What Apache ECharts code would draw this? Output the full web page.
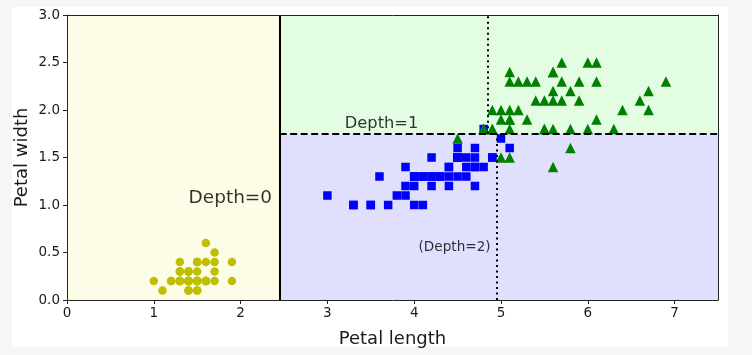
<!DOCTYPE html>
<html><head><meta charset="utf-8">
<script src="https://cdn.jsdelivr.net/npm/echarts@6/dist/echarts.min.js"></script>
<style>html,body{margin:0;padding:0;background:#f6f6f6}#c{width:752px;height:355px}</style>
</head><body><div id="c"></div>
<script>
// Iris petal measurements, one array pair per class
const setosaLength = [1.4,1.4,1.3,1.5,1.4,1.7,1.4,1.5,1.4,1.5,1.5,1.6,1.4,1.1,1.2,1.5,1.3,1.4,1.7,1.5,1.7,1.5,1.0,1.7,1.9,1.6,1.6,1.5,1.4,1.6,1.6,1.5,1.5,1.4,1.5,1.2,1.3,1.4,1.3,1.5,1.3,1.3,1.3,1.6,1.9,1.4,1.6,1.4,1.5,1.4];
const setosaWidth  = [0.2,0.2,0.2,0.2,0.2,0.4,0.3,0.2,0.2,0.1,0.2,0.2,0.1,0.1,0.2,0.4,0.4,0.3,0.3,0.3,0.2,0.4,0.2,0.5,0.2,0.2,0.4,0.2,0.2,0.2,0.2,0.4,0.1,0.2,0.2,0.2,0.2,0.1,0.2,0.2,0.3,0.3,0.2,0.6,0.4,0.3,0.2,0.2,0.2,0.2];
const versicolorLength = [4.7,4.5,4.9,4.0,4.6,4.5,4.7,3.3,4.6,3.9,3.5,4.2,4.0,4.7,3.6,4.4,4.5,4.1,4.5,3.9,4.8,4.0,4.9,4.7,4.3,4.4,4.8,5.0,4.5,3.5,3.8,3.7,3.9,5.1,4.5,4.5,4.7,4.4,4.1,4.0,4.4,4.6,4.0,3.3,4.2,4.2,4.2,4.3,3.0,4.1];
const versicolorWidth  = [1.4,1.5,1.5,1.3,1.5,1.3,1.6,1.0,1.3,1.4,1.0,1.5,1.0,1.4,1.3,1.4,1.5,1.0,1.5,1.1,1.8,1.3,1.5,1.2,1.3,1.4,1.4,1.7,1.5,1.0,1.1,1.0,1.2,1.6,1.5,1.6,1.5,1.3,1.3,1.3,1.2,1.4,1.2,1.0,1.3,1.2,1.3,1.3,1.1,1.3];
const virginicaLength = [6.0,5.1,5.9,5.6,5.8,6.6,4.5,6.3,5.8,6.1,5.1,5.3,5.5,5.0,5.1,5.3,5.5,6.7,6.9,5.0,5.7,4.9,6.7,4.9,5.7,6.0,4.8,4.9,5.6,5.8,6.1,6.4,5.6,5.1,5.6,6.1,5.6,5.5,4.8,5.4,5.6,5.1,5.1,5.9,5.7,5.2,5.0,5.2,5.4,5.1];
const virginicaWidth  = [2.5,1.9,2.1,1.8,2.2,2.1,1.7,1.8,1.8,2.5,2.0,1.9,2.1,2.0,2.4,2.3,1.8,2.2,2.3,1.5,2.3,2.0,2.0,1.8,2.1,1.8,1.8,1.8,2.1,1.6,1.9,2.0,2.2,1.5,1.4,2.3,2.4,1.8,1.8,2.1,2.4,2.3,1.9,2.3,2.5,2.3,1.9,2.0,2.3,1.8];

// Decision tree thresholds and axis extents
const xRange = [0, 7.5];
const yRange = [0, 3];
const depth0Split = 2.45;      // petal length
const depth1Split = 1.75;      // petal width
const depth2SplitLow = 4.95;   // petal length, lower branch
const depth2SplitHigh = 4.85;  // petal length, upper branch

// Tick labels
const xTicks = [0,1,2,3,4,5,6,7];
const yTicks = [0,0.5,1,1.5,2,2.5,3];

// Annotations
const annotationTexts = ["Depth=0", "Depth=1", "(Depth=2)"];
const annotationX = [1.40, 3.2, 4.05];
const annotationY = [1.0, 1.80, 0.5];

const FONT = "DejaVu Sans";
const zip = (a, b) => a.map((v, i) => [v, b[i]]);
const annotationFont = [18.5, 16.3, 13.6];

const chart = echarts.init(document.getElementById('c'), null, {renderer: 'canvas'});

const axisCommon = {
  type: 'value', z: 10, splitLine: {show: false},
  axisLine: {show: true, onZero: false, lineStyle: {color: '#222', width: 1}}
};

chart.setOption({
  animation: false,
  backgroundColor: 'transparent',
  graphic: {elements: [{type: 'rect', z: -100, silent: true, shape: {x: 12, y: 7, width: 716, height: 340}, style: {fill: '#ffffff'}}]},
  grid: {left: 67, right: 34, top: 15, bottom: 55, containLabel: false},
  xAxis: [
    Object.assign({}, axisCommon, {
      min: xRange[0], max: xRange[1], position: 'bottom',
      axisTick: {show: true, inside: false, length: 4, customValues: xTicks, lineStyle: {color: '#222'}},
      axisLabel: {customValues: xTicks, fontFamily: FONT, fontSize: 13.5, color: '#1a1a1a', margin: 6, formatter: v => String(v)},
      name: 'Petal length', nameLocation: 'middle', nameGap: 30, nameMoveOverlap: false,
      nameTextStyle: {fontFamily: FONT, fontSize: 18, color: '#1a1a1a'}
    }),
    Object.assign({}, axisCommon, {
      min: xRange[0], max: xRange[1], position: 'top',
      axisTick: {show: false}, axisLabel: {show: false}
    })
  ],
  yAxis: [
    Object.assign({}, axisCommon, {
      min: yRange[0], max: yRange[1], position: 'left',
      axisTick: {show: true, inside: false, length: 4, customValues: yTicks, lineStyle: {color: '#222'}},
      axisLabel: {customValues: yTicks, fontFamily: FONT, fontSize: 13.5, color: '#1a1a1a', margin: 7, formatter: v => v.toFixed(1)},
      name: 'Petal width', nameLocation: 'middle', nameGap: 36, nameRotate: 90, nameMoveOverlap: false,
      nameTextStyle: {fontFamily: FONT, fontSize: 18, color: '#1a1a1a'}
    }),
    Object.assign({}, axisCommon, {
      min: yRange[0], max: yRange[1], position: 'right',
      axisTick: {show: false}, axisLabel: {show: false}
    })
  ],
  series: [
    {
      type: 'scatter', data: [], z: 1, silent: true,
      markArea: {
        silent: true,
        data: [
          [{coord: [xRange[0], yRange[0]], itemStyle: {color: '#fdfde7'}}, {coord: [depth0Split, yRange[1]]}],
          [{coord: [depth0Split, yRange[0]], itemStyle: {color: '#e0e0fe'}}, {coord: [xRange[1], depth1Split]}],
          [{coord: [depth0Split, depth1Split], itemStyle: {color: '#e2fde2'}}, {coord: [xRange[1], yRange[1]]}]
        ]
      }
    },
    {
      type: 'scatter', z: 3, silent: true, data: zip(setosaLength, setosaWidth),
      symbol: 'circle', symbolSize: 8.5, itemStyle: {color: '#bfbf00', opacity: 1}
    },
    {
      type: 'scatter', z: 3, silent: true, data: zip(versicolorLength, versicolorWidth),
      symbol: 'rect', symbolSize: 8.5, itemStyle: {color: '#0000ff', opacity: 1}
    },
    {
      type: 'scatter', z: 3, silent: true, data: zip(virginicaLength, virginicaWidth),
      symbol: 'triangle', symbolSize: 10.5, itemStyle: {color: '#008000', opacity: 1}
    },
    {
      type: 'scatter', data: [], z: 5, silent: true,
      markLine: {
        silent: true, symbol: ['none', 'none'], label: {show: false},
        data: [
          [{coord: [depth0Split, yRange[0]], lineStyle: {color: '#000', width: 2, type: 'solid'}}, {coord: [depth0Split, yRange[1]]}],
          [{coord: [depth0Split, depth1Split], lineStyle: {color: '#000', width: 2, type: [7, 3.5]}}, {coord: [xRange[1], depth1Split]}],
          [{coord: [depth2SplitLow, yRange[0]], lineStyle: {color: '#000', width: 2, type: [2, 3.5]}}, {coord: [depth2SplitLow, depth1Split]}],
          [{coord: [depth2SplitHigh, depth1Split], lineStyle: {color: '#000', width: 2, type: [2, 3.5]}}, {coord: [depth2SplitHigh, yRange[1]]}]
        ]
      }
    },
    {
      type: 'scatter', z: 6, silent: true, symbolSize: 0,
      data: annotationTexts.map((t, i) => ({
        value: [annotationX[i], annotationY[i]],
        label: {
          show: true, formatter: t, position: [0, 0], align: 'left', verticalAlign: 'bottom',
          fontFamily: FONT, fontSize: annotationFont[i], lineHeight: annotationFont[i],
          offset: [0, annotationFont[i] * 0.15], color: '#000'
        }
      }))
    }
  ]
});
</script>
</body></html>
